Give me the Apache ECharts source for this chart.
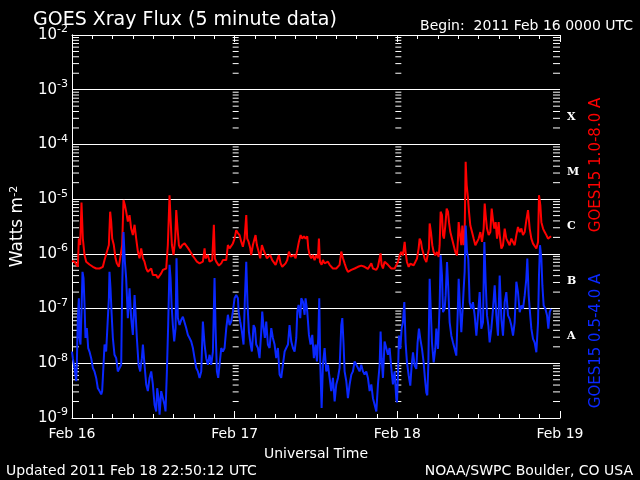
<!DOCTYPE html>
<html>
<head>
<meta charset="utf-8">
<script src="https://cdn.jsdelivr.net/npm/echarts@6.0.0/dist/echarts.min.js"></script>
<style>
  html, body { margin: 0; padding: 0; background: #000; }
  #chart { width: 640px; height: 480px; }
</style>
</head>
<body>
<div id="chart"></div>
<script>
// hours since 2011 Feb 16 00:00 UTC, flux in W/m^2
const dayLabels = ['Feb 16', 'Feb 17', 'Feb 18', 'Feb 19']
const classLetters = ['', 'A', 'B', 'C', 'M', 'X', '']

const redTime = [
  0.00, 0.37, 0.86, 1.01, 1.21, 1.40, 1.60, 1.85, 2.09, 2.58, 3.08, 3.57, 4.06, 4.55, 4.80, 5.04,
  5.44, 5.63, 5.78, 5.93, 6.17, 6.42, 6.62, 6.91, 7.16, 7.40, 7.60, 7.80, 7.99, 8.24, 8.49, 8.73,
  8.98, 9.23, 9.47, 9.72, 9.96, 10.21, 10.46, 10.70, 10.95, 11.19, 11.44, 11.69, 11.93, 12.18, 12.42, 12.67,
  12.92, 13.16, 13.41, 13.65, 13.90, 14.14, 14.39, 14.54, 14.74, 14.98, 15.23, 15.38, 15.57, 15.77, 15.97, 16.26,
  16.61, 16.85, 17.15, 17.44, 17.74, 18.08, 18.43, 18.82, 19.31, 19.56, 19.70, 20.05, 20.30, 20.69, 20.93, 21.08,
  21.28, 21.67, 22.02, 22.26, 22.76, 23.00, 23.25, 23.49, 23.74, 23.98, 24.23,
  24.48, 24.72, 24.97, 25.21, 25.46, 25.71, 25.85, 26.05, 26.30, 26.44, 26.69, 26.94, 27.08, 27.28, 27.53, 27.77,
  28.02, 28.27, 28.51, 28.76, 29.05, 29.25, 29.54, 29.79, 30.04, 30.28, 30.53, 30.78, 31.02, 31.27, 31.51, 31.76,
  32.01, 32.25, 32.50, 32.74, 32.99, 33.24, 33.48, 33.73, 33.97, 34.22, 34.46, 34.71, 34.86, 35.06, 35.30, 35.55,
  35.79, 36.04, 36.29, 36.43, 36.58, 36.83, 37.02, 37.27, 37.51, 37.76, 38.01, 38.25, 38.50, 38.75, 38.99, 39.24,
  39.48, 39.73, 39.98, 40.22, 40.47, 40.71, 40.96, 41.21, 41.45, 41.70, 41.94, 42.19, 42.43, 42.68, 42.93, 43.17,
  43.42, 43.66, 43.91, 44.16, 44.40, 44.65, 44.90, 45.14, 45.39, 45.53, 45.68, 45.88, 46.12, 46.37, 46.62, 46.86,
  47.11, 47.35, 47.60,
  47.85, 48.09, 48.34, 48.58, 48.83, 49.08, 49.22, 49.42, 49.67, 49.91, 50.16, 50.41, 50.65, 50.90, 51.14, 51.29,
  51.49, 51.64, 51.78, 52.03, 52.28, 52.52, 52.67, 52.77, 52.96, 53.16, 53.36, 53.60, 53.85, 54.10, 54.24, 54.39,
  54.59, 54.74, 54.88, 55.08, 55.28, 55.47, 55.62, 55.82, 56.06, 56.31, 56.56, 56.80, 56.95, 57.05, 57.20, 57.44,
  57.59, 57.79, 57.93, 58.08, 58.23, 58.43, 58.57, 58.77, 59.02, 59.26, 59.51, 59.75, 60.00, 60.25, 60.49, 60.74,
  60.89, 61.03, 61.23, 61.48, 61.72, 61.92, 62.12, 62.31, 62.51, 62.71, 62.95, 63.10, 63.35, 63.59, 63.84, 64.08,
  64.33, 64.57, 64.82, 65.07, 65.31, 65.56, 65.80, 66.05, 66.30, 66.54, 66.79, 67.03, 67.28, 67.53, 67.77, 68.02,
  68.26, 68.51, 68.76, 68.90, 69.10, 69.25, 69.50, 69.74, 69.99, 70.23, 70.48, 70.68
]
const redFlux = [
  7.4e-7, 7.2e-7, 5.8e-7, 1.9e-6, 1.45e-6, 8.7e-6, 1.9e-6, 9.5e-7, 7.2e-7, 6.4e-7, 5.8e-7, 5.4e-7, 5.4e-7, 5.8e-7, 7.7e-7, 8.3e-7,
  1.45e-6, 5.9e-6, 3.9e-6, 1.9e-6, 1.45e-6, 8.3e-7, 6.7e-7, 5.8e-7, 6.3e-7, 1.45e-6, 9.6e-6, 7.8e-6, 5.9e-6, 3.9e-6, 5.1e-6, 2.9e-6,
  2.2e-6, 3.4e-6, 1.9e-6, 1.1e-6, 8.3e-7, 1.26e-6, 8.3e-7, 7.2e-7, 5.4e-7, 4.7e-7, 4.4e-7, 5.4e-7, 4.1e-7, 3.8e-7, 4.1e-7, 3.6e-7,
  3.8e-7, 4.4e-7, 5.1e-7, 4.7e-7, 5.4e-7, 1.45e-6, 1.18e-5, 4.4e-6, 1.45e-6, 9.5e-7, 1.9e-6, 6.3e-6, 2.9e-6, 1.45e-6, 1.26e-6, 1.45e-6,
  1.55e-6, 1.45e-6, 1.26e-6, 1.1e-6, 9.5e-7, 8.3e-7, 7.2e-7, 6.7e-7, 7.2e-7, 1.26e-6, 8.3e-7, 9.5e-7, 7.2e-7, 7.7e-7, 3.4e-6, 8.3e-7,
  7.2e-7, 6.1e-7, 6.7e-7, 7.7e-7, 7.7e-7, 1.45e-6, 1.26e-6, 1.26e-6, 1.55e-6, 1.9e-6, 2.7e-6,
  2.4e-6, 2.2e-6, 1.67e-6, 1.35e-6, 1.9e-6, 5.1e-6, 1.9e-6, 1.67e-6, 1.26e-6, 9.5e-7, 1.45e-6, 1.9e-6, 2.2e-6, 1.45e-6, 1.1e-6, 8.3e-7,
  1.45e-6, 1.17e-6, 1.26e-6, 8.3e-7, 7.7e-7, 9.5e-7, 7.7e-7, 7.2e-7, 6.3e-7, 7.7e-7, 9.5e-7, 6.7e-7, 5.8e-7, 6.3e-7, 6.7e-7, 7.7e-7,
  1.1e-6, 8.9e-7, 8.9e-7, 9.5e-7, 8.3e-7, 1.17e-6, 1.67e-6, 2.2e-6, 1.9e-6, 2.1e-6, 1.9e-6, 2.1e-6, 1.26e-6, 9.5e-7, 8.3e-7, 9.5e-7,
  7.7e-7, 9.5e-7, 8.3e-7, 1.9e-6, 7.2e-7, 6.3e-7, 7.7e-7, 6.7e-7, 6.3e-7, 7.2e-7, 6.3e-7, 5.8e-7, 5.4e-7, 5.1e-7, 5.4e-7, 5.8e-7,
  6.3e-7, 1.1e-6, 8.3e-7, 6.7e-7, 5.4e-7, 4.7e-7, 4.6e-7, 5.1e-7, 5.1e-7, 5.4e-7, 5.5e-7, 5.8e-7, 6.3e-7, 6.1e-7, 5.8e-7, 5.8e-7,
  5.4e-7, 5.3e-7, 5.4e-7, 6.7e-7, 5.4e-7, 5.1e-7, 5.1e-7, 5.8e-7, 8.3e-7, 1.02e-6, 6.3e-7, 5.4e-7, 7.2e-7, 7.7e-7, 6.3e-7, 5.8e-7,
  5.4e-7, 5.4e-7, 5.4e-7,
  5.4e-7, 7.1e-7, 9.4e-7, 1.08e-6, 9.4e-7, 1.65e-6, 1.08e-6, 7.1e-7, 5.8e-7, 6.6e-7, 7.1e-7, 6.2e-7, 7.1e-7, 8.2e-7, 1.25e-6, 1.9e-6,
  1.65e-6, 1.25e-6, 1.08e-6, 8.2e-7, 7.1e-7, 6.6e-7, 1.25e-6, 3.6e-6, 2.5e-6, 1.44e-6, 1.08e-6, 9.4e-7, 1.08e-6, 8.8e-7, 1.44e-6, 5.9e-6,
  5.1e-6, 2.2e-6, 1.9e-6, 3.3e-6, 6.7e-6, 5.9e-6, 3.8e-6, 2.5e-6, 1.9e-6, 1.44e-6, 1.08e-6, 9.4e-7, 1.9e-6, 3.8e-6, 2.5e-6, 1.44e-6,
  3.3e-6, 1.44e-6, 2.2e-6, 4.8e-5, 1.81e-5, 1.03e-5, 5.9e-6, 3.3e-6, 2.5e-6, 1.9e-6, 1.44e-6, 1.65e-6, 1.9e-6, 2.5e-6, 1.65e-6, 2.9e-6,
  8.3e-6, 5.1e-6, 2.9e-6, 2.2e-6, 2.5e-6, 6.7e-6, 4.1e-6, 2.9e-6, 3.8e-6, 1.9e-6, 3.8e-6, 2.2e-6, 1.25e-6, 1.44e-6, 2.9e-6, 1.9e-6,
  1.65e-6, 1.44e-6, 1.9e-6, 1.65e-6, 1.44e-6, 2.2e-6, 3.1e-6, 2.5e-6, 2.9e-6, 2.2e-6, 2.5e-6, 4.1e-6, 6.3e-6, 2.9e-6, 1.9e-6, 1.54e-6,
  1.44e-6, 1.25e-6, 1.65e-6, 1.18e-5, 7.8e-6, 3.8e-6, 2.9e-6, 2.5e-6, 2.2e-6, 1.9e-6, 2.04e-6, 2.1e-6
]

const blueTime = [
  0.00, 0.12, 0.37, 0.62, 0.71, 0.86, 1.01, 1.11, 1.25, 1.40, 1.55, 1.70, 1.85, 1.99, 2.19, 2.39,
  2.58, 2.83, 3.08, 3.32, 3.57, 3.81, 4.06, 4.31, 4.45, 4.65, 4.80, 5.04, 5.29, 5.44, 5.53, 5.68,
  5.83, 6.03, 6.27, 6.52, 6.76, 7.01, 7.26, 7.40, 7.60, 7.80, 7.99, 8.24, 8.49, 8.73, 8.98, 9.23,
  9.37, 9.57, 9.82, 10.06, 10.31, 10.46, 10.70, 10.95, 11.19, 11.44, 11.69, 11.93, 12.18, 12.42, 12.57, 12.77,
  12.92, 13.16, 13.41, 13.65, 13.80, 14.00, 14.19, 14.39, 14.54, 14.69, 14.88, 15.08, 15.28, 15.42, 15.62, 15.87,
  16.11, 16.36, 16.61, 16.85, 17.10, 17.34, 17.59, 17.84, 18.08, 18.33, 18.57, 18.82, 19.07, 19.31, 19.56, 19.80,
  20.05, 20.30, 20.54, 20.79, 21.03, 21.18, 21.38, 21.57, 21.77, 22.02, 22.26, 22.51, 22.76, 23.00, 23.25, 23.49,
  23.74, 23.98, 24.23, 24.48,
  24.58, 24.82, 25.07, 25.31, 25.51, 25.71, 25.90, 26.10, 26.35, 26.54, 26.79, 26.99, 27.18, 27.43, 27.67, 27.92,
  28.07, 28.27, 28.46, 28.66, 28.90, 29.15, 29.40, 29.64, 29.89, 30.13, 30.38, 30.63, 30.87, 31.12, 31.37, 31.61,
  31.86, 32.10, 32.35, 32.60, 32.84, 33.09, 33.24, 33.43, 33.68, 33.83, 34.07, 34.32, 34.46, 34.71, 34.96, 35.20,
  35.45, 35.69, 35.94, 36.14, 36.33, 36.48, 36.63, 36.83, 37.02, 37.27, 37.51, 37.76, 38.01, 38.25, 38.50, 38.75,
  38.99, 39.24, 39.48, 39.73, 39.88, 40.07, 40.22, 40.47, 40.71, 40.96, 41.21, 41.45, 41.70, 41.94, 42.19, 42.43,
  42.68, 42.93, 43.17, 43.42, 43.66, 43.91, 44.16, 44.40, 44.65, 44.90, 45.14, 45.39, 45.53, 45.68, 45.88, 46.12,
  46.37, 46.62, 46.86, 47.11, 47.35, 47.60,
  47.85, 47.95, 48.09, 48.24, 48.44, 48.63, 48.83, 49.03, 49.22, 49.42, 49.67, 49.91, 50.11, 50.31, 50.55, 50.80,
  50.99, 51.19, 51.39, 51.64, 51.88, 52.08, 52.28, 52.42, 52.57, 52.77, 52.91, 53.11, 53.36, 53.60, 53.75, 54.00,
  54.24, 54.39, 54.59, 54.74, 54.98, 55.13, 55.33, 55.52, 55.72, 55.97, 56.21, 56.46, 56.70, 56.90, 57.05, 57.25,
  57.44, 57.64, 57.79, 57.93, 58.08, 58.28, 58.47, 58.67, 58.92, 59.16, 59.41, 59.66, 59.90, 60.15, 60.39, 60.64,
  60.84, 61.03, 61.23, 61.43, 61.62, 61.87, 62.12, 62.36, 62.61, 62.85, 63.10, 63.35, 63.59, 63.84, 64.08, 64.33,
  64.57, 64.82, 65.07, 65.31, 65.56, 65.80, 66.05, 66.30, 66.54, 66.79, 67.03, 67.18, 67.38, 67.53, 67.77, 68.02,
  68.26, 68.51, 68.76, 68.90, 69.05, 69.25, 69.40, 69.59, 69.84, 70.09, 70.28, 70.48, 70.68
]
const blueFlux = [
  1.64e-8, 1.24e-8, 8.2e-9, 4.7e-9, 9.4e-9, 6.7e-8, 1.54e-7, 2.9e-8, 2.2e-8, 8.8e-8, 4.7e-7, 3.6e-7, 1.17e-7, 2.9e-8, 4.4e-8, 1.9e-8,
  1.64e-8, 1.24e-8, 8.2e-9, 7.1e-9, 5.4e-9, 3.5e-9, 3.1e-9, 2.7e-9, 3.1e-9, 9.4e-9, 2.2e-8, 1.64e-8, 1.53e-8, 1.54e-7, 4.7e-7, 2.35e-7,
  8.8e-8, 2.9e-8, 1.43e-8, 1.24e-8, 7.1e-9, 6.6e-9, 9.4e-9, 2.35e-7, 2.5e-6, 7.2e-7, 3.6e-7, 6.7e-8, 2.35e-7, 6.7e-8, 3.3e-8, 1.77e-7,
  8.8e-8, 2.9e-8, 9.4e-9, 7.1e-9, 1.24e-8, 2.2e-8, 9.4e-9, 4.1e-9, 3.1e-9, 5.4e-9, 7.1e-9, 4.1e-9, 1.75e-9, 1.32e-9, 3.5e-9, 2.3e-9,
  1.15e-9, 3.1e-9, 2.3e-9, 1.75e-9, 1.32e-9, 7.1e-9, 5.0e-8, 6.3e-7, 3.6e-7, 1.17e-7, 5.0e-8, 2.5e-8, 4.4e-8, 8.3e-7, 6.7e-8, 5.0e-8,
  6.2e-8, 7.1e-8, 6.7e-8, 4.4e-8, 3.3e-8, 2.9e-8, 2.5e-8, 1.9e-8, 1.24e-8, 8.2e-9, 7.1e-9, 5.4e-9, 7.1e-9, 5.8e-8, 2.2e-8, 1.24e-8,
  9.4e-9, 1.43e-8, 9.4e-9, 1.64e-8, 3.6e-7, 4.4e-8, 7.1e-9, 5.4e-9, 9.4e-9, 1.9e-8, 1.64e-8, 1.9e-8, 4.4e-8, 7.7e-8, 5.0e-8, 5.8e-8,
  8.8e-8, 1.54e-7, 1.77e-7, 1.54e-7,
  8.8e-8, 5.8e-8, 3.8e-8, 2.2e-8, 1.54e-7, 7.2e-7, 1.17e-7, 3.8e-8, 2.2e-8, 1.64e-8, 5.0e-8, 4.4e-8, 2.2e-8, 1.9e-8, 1.24e-8, 3.8e-8,
  8.8e-8, 4.4e-8, 2.9e-8, 5.8e-8, 2.2e-8, 1.9e-8, 4.4e-8, 2.9e-8, 2.2e-8, 1.24e-8, 1.9e-8, 6.2e-9, 5.4e-9, 9.4e-9, 1.64e-8, 1.9e-8,
  2.2e-8, 5.0e-8, 2.5e-8, 1.9e-8, 1.64e-8, 2.9e-8, 8.8e-8, 1.17e-7, 6.7e-8, 1.54e-7, 1.34e-7, 7.7e-8, 1.54e-7, 8.8e-8, 3.3e-8, 2.2e-8,
  3.3e-8, 1.24e-8, 2.2e-8, 1.08e-8, 2.9e-8, 1.54e-7, 9.4e-9, 1.52e-9, 9.4e-9, 1.9e-8, 7.1e-9, 9.4e-9, 5.4e-9, 3.1e-9, 5.4e-9, 2.0e-9,
  4.1e-9, 5.4e-9, 8.2e-9, 5.0e-8, 6.7e-8, 2.2e-8, 7.1e-9, 4.7e-9, 2.3e-9, 4.1e-9, 6.2e-9, 7.1e-9, 1.08e-8, 9.4e-9, 8.2e-9, 7.1e-9,
  9.4e-9, 7.1e-9, 6.2e-9, 7.1e-9, 5.4e-9, 3.1e-9, 4.1e-9, 2.3e-9, 1.75e-9, 1.32e-9, 4.1e-9, 9.4e-9, 3.8e-8, 1.24e-8, 5.4e-9, 2.5e-8,
  2.5e-8, 1.43e-8, 1.9e-8, 8.2e-9, 4.1e-9, 7.1e-9,
  2.2e-9, 1.93e-9, 6.0e-9, 3.2e-8, 1.83e-8, 4.3e-8, 5.6e-8, 1.31e-7, 2.4e-8, 1.04e-8, 6.0e-9, 3.9e-9, 9.1e-9, 1.59e-8, 9.1e-9, 7.9e-9,
  2.4e-8, 4.3e-8, 2.8e-8, 1.83e-8, 1.04e-8, 5.2e-9, 2.9e-9, 2.6e-9, 9.1e-9, 3.5e-7, 1.14e-7, 2.4e-8, 1.04e-8, 1.83e-8, 4.3e-8, 1.83e-8,
  1.14e-7, 9.4e-7, 4.0e-7, 8.6e-8, 9.9e-8, 1.74e-7, 7.1e-7, 2.3e-7, 5.6e-8, 3.2e-8, 2.4e-8, 1.83e-8, 1.38e-8, 7.5e-8, 3.5e-7, 9.9e-8,
  3.7e-8, 9.9e-8, 2.3e-7, 4.7e-7, 3.3e-6, 1.08e-6, 8.2e-7, 1.31e-7, 9.9e-8, 1.31e-7, 7.5e-8, 3.2e-8, 7.5e-8, 2.0e-7, 4.3e-8, 5.6e-8,
  1.65e-6, 3.1e-7, 7.5e-8, 4.9e-8, 2.4e-8, 4.3e-8, 9.9e-8, 2.65e-7, 7.5e-8, 3.2e-8, 4.0e-7, 6.5e-8, 3.2e-8, 1.31e-7, 2.0e-7, 7.5e-8,
  6.5e-8, 4.9e-8, 3.2e-8, 5.6e-8, 3.1e-7, 2.0e-7, 8.6e-8, 1.14e-7, 9.9e-8, 1.74e-7, 3.5e-7, 8.2e-7, 1.74e-7, 9.9e-8, 4.3e-8, 2.8e-8,
  2.4e-8, 1.59e-8, 5.6e-8, 4.0e-7, 1.44e-6, 8.2e-7, 2.65e-7, 1.14e-7, 9.9e-8, 7.5e-8, 4.3e-8, 8.6e-8, 9.9e-8
]

// log-style minor tick values (2..9 per decade) and where the tick ladders stand
const minorTickValues = []
for (let d = -9; d < -2; d++) {
  for (let m = 2; m <= 9; m++) minorTickValues.push(m * Math.pow(10, d))
}
const ladderHours = [0, 24, 48, 72]

const chart = echarts.init(document.getElementById('chart'))
const font = 'DejaVu Sans'
const white = '#ffffff'
const red = '#ff0000'
const blue = '#0a28ff'

const tickData = []
ladderHours.forEach(h => minorTickValues.forEach(v => tickData.push([h, v])))

const option = {
  backgroundColor: '#000000',
  animation: false,
  textStyle: { fontFamily: font, color: white },
  title: [
    { text: 'GOES Xray Flux (5 minute data)', left: 28, top: 6,
      textStyle: { color: white, fontSize: 19, fontWeight: 'normal', fontFamily: font } },
    { text: 'Begin:  2011 Feb 16 0000 UTC', right: 2, top: 14,
      textStyle: { color: white, fontSize: 14, fontWeight: 'normal', fontFamily: font } },
    { text: 'Updated 2011 Feb 18 22:50:12 UTC', left: 1, top: 459,
      textStyle: { color: white, fontSize: 14, fontWeight: 'normal', fontFamily: font } },
    { text: 'NOAA/SWPC Boulder, CO USA', right: 2, top: 459,
      textStyle: { color: white, fontSize: 14, fontWeight: 'normal', fontFamily: font } }
  ],
  grid: { left: 72, right: 80, top: 35, bottom: 62, containLabel: false },
  xAxis: [
    {
      type: 'value', min: 0, max: 72, interval: 24, position: 'bottom',
      name: 'Universal Time', nameLocation: 'middle', nameGap: 29,
      nameTextStyle: { color: white, fontSize: 14, fontFamily: font },
      axisLine: { lineStyle: { color: white, width: 1 } },
      axisTick: { inside: true, length: 7, lineStyle: { color: white } },
      minorTick: { show: true, splitNumber: 8, length: 4, lineStyle: { color: white } },
      splitLine: { show: false },
      axisLabel: {
        color: white, fontSize: 14, margin: 9, showMinLabel: true, showMaxLabel: true,
        formatter: v => dayLabels[Math.round(v / 24)]
      }
    },
    {
      type: 'value', min: 0, max: 72, interval: 24, position: 'top',
      axisLine: { lineStyle: { color: white, width: 1 } },
      axisTick: { inside: true, length: 7, lineStyle: { color: white } },
      minorTick: { show: true, splitNumber: 8, length: 4, lineStyle: { color: white } },
      splitLine: { show: false },
      axisLabel: { show: false }
    }
  ],
  yAxis: [
    {
      type: 'log', logBase: 10, min: 1e-9, max: 1e-2, position: 'left',
      name: 'Watts m{s|-2}', nameLocation: 'middle', nameGap: 46, nameRotate: 90,
      nameTextStyle: {
        color: white, fontSize: 17, fontFamily: font,
        rich: { s: { fontSize: 11, color: white, verticalAlign: 'top', fontFamily: font } }
      },
      axisLine: { lineStyle: { color: white, width: 1 } },
      axisTick: { show: false },
      splitLine: { show: true, lineStyle: { color: white, width: 1 } },
      axisLabel: {
        color: white, fontSize: 15, margin: 4, lineHeight: 22,
        formatter: v => '10{s|' + Math.round(Math.log10(v)) + '}',
        rich: { s: { fontSize: 11, color: white, verticalAlign: 'top', fontFamily: font } }
      }
    },
    {
      type: 'log', logBase: 10, min: 1e-9, max: 1e-2, position: 'right',
      axisLine: { lineStyle: { color: white, width: 1 } },
      axisTick: { show: false },
      splitLine: { show: false },
      axisLabel: { show: false }
    },
    {
      type: 'category', position: 'right', data: classLetters,
      axisLine: { show: false }, axisTick: { show: false }, splitLine: { show: false },
      axisLabel: { color: white, fontSize: 11, fontWeight: 'bold', fontFamily: 'DejaVu Serif', margin: 7 }
    }
  ],
  graphic: [
    { type: 'text', x: 596, y: 165, rotation: Math.PI / 2,
      style: { text: 'GOES15 1.0-8.0 A', fill: red, font: '15px "DejaVu Sans"', align: 'center', verticalAlign: 'middle' } },
    { type: 'text', x: 596, y: 341, rotation: Math.PI / 2,
      style: { text: 'GOES15 0.5-4.0 A', fill: blue, font: '15px "DejaVu Sans"', align: 'center', verticalAlign: 'middle' } }
  ],
  series: [
    {
      name: 'minor ticks', type: 'custom', xAxisIndex: 0, yAxisIndex: 0, silent: true, clip: false,
      data: tickData,
      renderItem: (params, api) => {
        const h = api.value(0)
        const p = api.coord([h, api.value(1)])
        let x1 = p[0] - 2, x2 = p[0] + 4
        if (h === 0) { x1 = p[0]; x2 = p[0] + 7 }
        if (h === 72) { x1 = p[0] - 7; x2 = p[0] }
        return { type: 'line', shape: { x1, y1: p[1], x2, y2: p[1] }, style: { stroke: white, lineWidth: 1 } }
      },
      z: 1
    },
    {
      name: 'GOES15 1.0-8.0 A', type: 'line', xAxisIndex: 0, yAxisIndex: 0,
      showSymbol: false, symbol: 'none',
      lineStyle: { color: red, width: 2 },
      data: redTime.map((t, i) => [t, redFlux[i]]), z: 3
    },
    {
      name: 'GOES15 0.5-4.0 A', type: 'line', xAxisIndex: 0, yAxisIndex: 0,
      showSymbol: false, symbol: 'none',
      lineStyle: { color: blue, width: 2 },
      data: blueTime.map((t, i) => [t, blueFlux[i]]), z: 3
    }
  ]
}
chart.setOption(option)
</script>
</body>
</html>
